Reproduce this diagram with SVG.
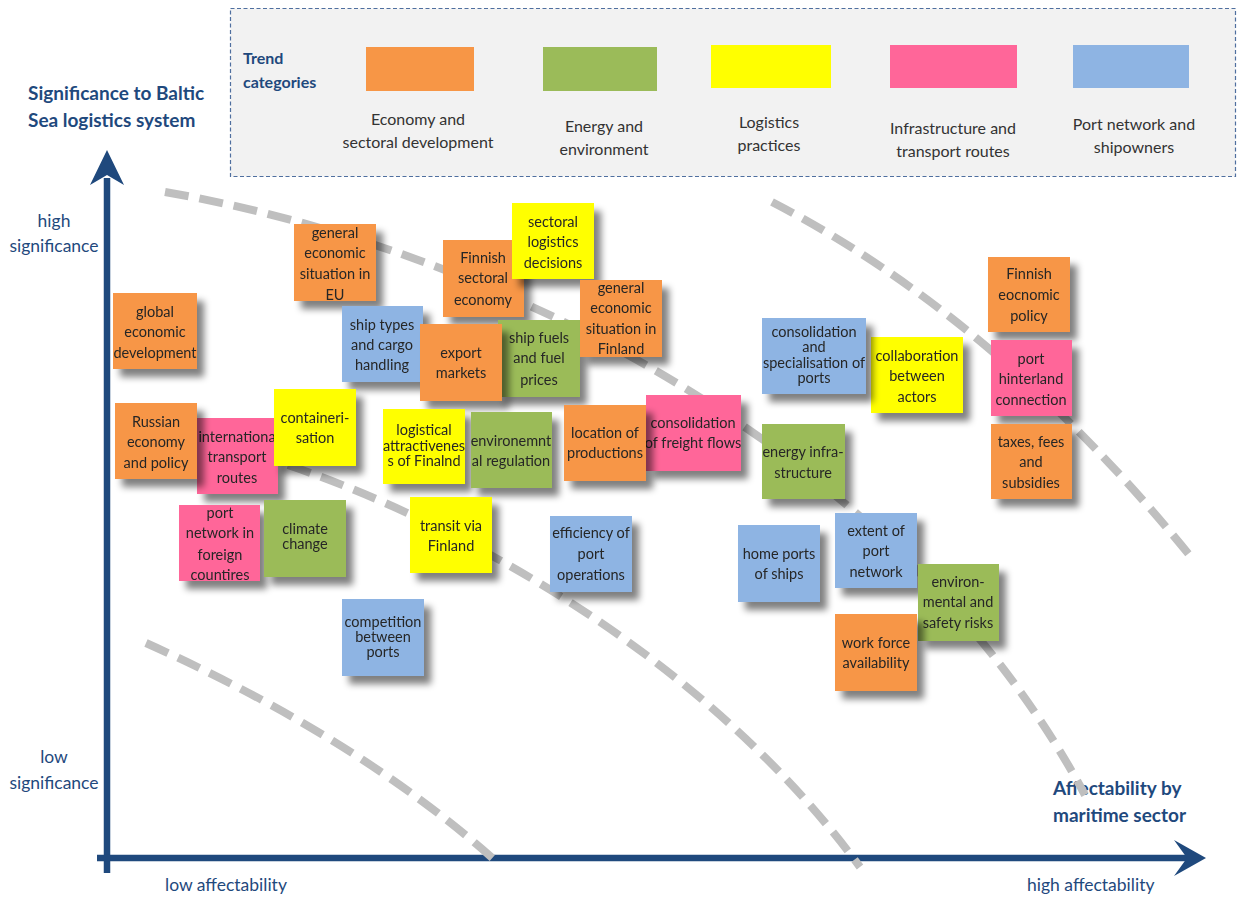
<svg xmlns="http://www.w3.org/2000/svg" width="1237" height="897" viewBox="0 0 1237 897">
<style>
.bg{fill:#ffffff}
.legend{fill:#f2f2f2;stroke:#4f6f9f;stroke-width:1.2;stroke-dasharray:4 2.5}
.lt{font-family:Lato,"Open Sans","Liberation Sans",sans-serif;font-size:16px;fill:#333333;text-anchor:middle}
.tc{font-family:Lato,"Liberation Sans",sans-serif;font-size:16px;font-weight:bold;fill:#1f497d}
.at{font-family:Lato,"Liberation Sans",sans-serif;font-size:19px;font-weight:bold;fill:#1f497d}
.al{font-family:Lato,"Liberation Sans",sans-serif;font-size:17.5px;fill:#1f497d}
.alc{font-family:Lato,"Liberation Sans",sans-serif;font-size:17.5px;fill:#1f497d;text-anchor:middle}
.curve{fill:none;stroke:#bfbfbf;stroke-width:8;stroke-dasharray:24 11}
.axis{stroke:#1f497d;stroke-width:6.5;fill:none}
.head{fill:#1f497d}
.n{font-family:Lato,"Open Sans","Liberation Sans",sans-serif;font-size:14.5px;fill:#262626;text-anchor:middle}
.o{fill:#f79646}
.g{fill:#9bbb59}
.y{fill:#ffff00}
.p{fill:#ff6699}
.b{fill:#8eb4e3}
</style>
<defs>
<filter id="sh" x="-20%" y="-20%" width="150%" height="150%">
<feGaussianBlur in="SourceAlpha" stdDeviation="3.5"/>
<feOffset dx="7" dy="8" result="o"/>
<feComponentTransfer><feFuncA type="linear" slope="0.5"/></feComponentTransfer>
<feMerge><feMergeNode/><feMergeNode in="SourceGraphic"/></feMerge>
</filter>
</defs>
<rect class="bg" x="0" y="0" width="1237" height="897"/>

<g id="legend">
<rect class="legend" x="230.5" y="8.5" width="1005" height="168"/>
<text class="tc" x="243" y="64">Trend</text>
<text class="tc" x="243" y="88">categories</text>
<rect class="o" x="366" y="47" width="108" height="44"/>
<rect class="g" x="543" y="47" width="114" height="44"/>
<rect class="y" x="711" y="45" width="120" height="43"/>
<rect class="p" x="890" y="45" width="127" height="43"/>
<rect class="b" x="1073" y="45" width="116" height="43"/>
<text class="lt" x="418" y="125">Economy and</text>
<text class="lt" x="418" y="148">sectoral development</text>
<text class="lt" x="604" y="132">Energy and</text>
<text class="lt" x="604" y="155">environment</text>
<text class="lt" x="769" y="128">Logistics</text>
<text class="lt" x="769" y="151">practices</text>
<text class="lt" x="953" y="134">Infrastructure and</text>
<text class="lt" x="953" y="157">transport routes</text>
<text class="lt" x="1134" y="130">Port network and</text>
<text class="lt" x="1134" y="153">shipowners</text>
</g>

<g id="axes">
<line class="axis" x1="107" y1="873" x2="107" y2="178"/>
<polygon class="head" points="107,150 124,185 107,175 90,185"/>
<line class="axis" x1="97" y1="858" x2="1188" y2="858"/>
<polygon class="head" points="1206,858 1174,840 1187,858 1174,876"/>
<text class="at" x="28" y="100">Significance to Baltic</text>
<text class="at" x="28" y="127">Sea logistics system</text>
<text class="alc" x="54" y="227">high</text>
<text class="alc" x="54" y="252">significance</text>
<text class="alc" x="54" y="763">low</text>
<text class="alc" x="54" y="789">significance</text>
<text class="al" x="165" y="891">low affectability</text>
<text class="al" x="1027" y="891">high affectability</text>
<text class="at" x="1053" y="795">Affectability by</text>
<text class="at" x="1053" y="822">maritime sector</text>
</g>

<g id="connectors">
<path class="curve" d="M165,192 C500,250 900,450 1085,795"/>
<path class="curve" d="M288,465 C450,520 700,650 860,867"/>
<path class="curve" d="M772,202 Q1000,320 1195,562"/>
<path class="curve" d="M146,643 Q360,739 498,863"/>
</g>

<g id="n-eu" filter="url(#sh)"><rect class="o" x="294" y="224" width="82" height="77"/><text class="n"><tspan x="335" y="238">general</tspan><tspan x="335" y="258">economic</tspan><tspan x="335" y="279">situation in</tspan><tspan x="335" y="300">EU</tspan></text></g>
<g id="n-global" filter="url(#sh)"><rect class="o" x="113" y="293" width="84" height="76"/><text class="n"><tspan x="155" y="317">global</tspan><tspan x="155" y="337">economic</tspan><tspan x="155" y="358">development</tspan></text></g>
<g id="n-shiptypes" filter="url(#sh)"><rect class="b" x="342" y="306" width="81" height="76"/><text class="n"><tspan x="382" y="330">ship types</tspan><tspan x="382" y="350">and cargo</tspan><tspan x="382" y="370">handling</tspan></text></g>
<g id="n-finsect" filter="url(#sh)"><rect class="o" x="443" y="240" width="81" height="77"/><text class="n"><tspan x="483" y="263">Finnish</tspan><tspan x="483" y="283">sectoral</tspan><tspan x="483" y="305">economy</tspan></text></g>
<g id="n-sectlog" filter="url(#sh)"><rect class="y" x="512" y="203" width="82" height="76"/><text class="n"><tspan x="553" y="227">sectoral</tspan><tspan x="553" y="247">logistics</tspan><tspan x="553" y="268">decisions</tspan></text></g>
<g id="n-shipfuels" filter="url(#sh)"><rect class="g" x="498" y="320" width="82" height="77"/><text class="n"><tspan x="539" y="343">ship fuels</tspan><tspan x="539" y="363">and fuel</tspan><tspan x="539" y="385">prices</tspan></text></g>
<g id="n-export" filter="url(#sh)"><rect class="o" x="420" y="324" width="82" height="77"/><text class="n"><tspan x="461" y="358">export</tspan><tspan x="461" y="378">markets</tspan></text></g>
<g id="n-genfin" filter="url(#sh)"><rect class="o" x="580" y="280" width="82" height="77"/><text class="n"><tspan x="621" y="293">general</tspan><tspan x="621" y="313">economic</tspan><tspan x="621" y="334">situation in</tspan><tspan x="621" y="354">Finland</tspan></text></g>
<g id="n-intl" filter="url(#sh)"><rect class="p" x="197" y="418" width="81" height="76"/><text class="n"><tspan x="237" y="442">internationa</tspan><tspan x="237" y="462">transport</tspan><tspan x="237" y="483">routes</tspan></text></g>
<g id="n-russian" filter="url(#sh)"><rect class="o" x="115" y="403" width="82" height="76"/><text class="n"><tspan x="156" y="427">Russian</tspan><tspan x="156" y="447">economy</tspan><tspan x="156" y="468">and policy</tspan></text></g>
<g id="n-contain" filter="url(#sh)"><rect class="y" x="274" y="389" width="82" height="77"/><text class="n"><tspan x="315" y="423">containeri-</tspan><tspan x="315" y="443">sation</tspan></text></g>
<g id="n-portforeign" filter="url(#sh)"><rect class="p" x="179" y="505" width="81" height="76"/><text class="n"><tspan x="220" y="518">port</tspan><tspan x="220" y="538">network in</tspan><tspan x="220" y="560">foreign</tspan><tspan x="220" y="580">countires</tspan></text></g>
<g id="n-climate" filter="url(#sh)"><rect class="g" x="264" y="500" width="82" height="77"/><text class="n"><tspan x="305" y="534">climate</tspan><tspan x="305" y="549">change</tspan></text></g>
<g id="n-logattr" filter="url(#sh)"><rect class="y" x="383" y="409" width="82" height="75"/><text class="n"><tspan x="424" y="435">logistical</tspan><tspan x="424" y="451">attractivenes</tspan><tspan x="424" y="466">s of Finalnd</tspan></text></g>
<g id="n-envreg" filter="url(#sh)"><rect class="g" x="471" y="412" width="81" height="76"/><text class="n"><tspan x="511" y="446">environemnt</tspan><tspan x="511" y="466">al regulation</tspan></text></g>
<g id="n-consfreight" filter="url(#sh)"><rect class="p" x="646" y="395" width="95" height="76"/><text class="n"><tspan x="693" y="428">consolidation</tspan><tspan x="693" y="448">of freight flows</tspan></text></g>
<g id="n-location" filter="url(#sh)"><rect class="o" x="564" y="405" width="82" height="76"/><text class="n"><tspan x="605" y="438">location of</tspan><tspan x="605" y="458">productions</tspan></text></g>
<g id="n-transit" filter="url(#sh)"><rect class="y" x="410" y="497" width="82" height="76"/><text class="n"><tspan x="451" y="531">transit via</tspan><tspan x="451" y="551">Finland</tspan></text></g>
<g id="n-efficiency" filter="url(#sh)"><rect class="b" x="550" y="516" width="82" height="76"/><text class="n"><tspan x="591" y="538">efficiency of</tspan><tspan x="591" y="559">port</tspan><tspan x="591" y="580">operations</tspan></text></g>
<g id="n-competition" filter="url(#sh)"><rect class="b" x="342" y="599" width="82" height="77"/><text class="n"><tspan x="383" y="627">competition</tspan><tspan x="383" y="642">between</tspan><tspan x="383" y="657">ports</tspan></text></g>
<g id="n-collab" filter="url(#sh)"><rect class="y" x="871" y="337" width="92" height="76"/><text class="n"><tspan x="917" y="361">collaboration</tspan><tspan x="917" y="381">between</tspan><tspan x="917" y="402">actors</tspan></text></g>
<g id="n-consports" filter="url(#sh)"><rect class="b" x="762" y="318" width="104" height="76"/><text class="n"><tspan x="814" y="337">consolidation</tspan><tspan x="814" y="352">and</tspan><tspan x="814" y="368">specialisation of</tspan><tspan x="814" y="383">ports</tspan></text></g>
<g id="n-finpolicy" filter="url(#sh)"><rect class="o" x="988" y="257" width="82" height="75"/><text class="n"><tspan x="1029" y="279">Finnish</tspan><tspan x="1029" y="300">eocnomic</tspan><tspan x="1029" y="321">policy</tspan></text></g>
<g id="n-hinterland" filter="url(#sh)"><rect class="p" x="991" y="340" width="81" height="76"/><text class="n"><tspan x="1031" y="364">port</tspan><tspan x="1031" y="384">hinterland</tspan><tspan x="1031" y="405">connection</tspan></text></g>
<g id="n-taxes" filter="url(#sh)"><rect class="o" x="991" y="424" width="81" height="75"/><text class="n"><tspan x="1031" y="447">taxes, fees</tspan><tspan x="1031" y="467">and</tspan><tspan x="1031" y="488">subsidies</tspan></text></g>
<g id="n-energyinfra" filter="url(#sh)"><rect class="g" x="762" y="424" width="83" height="75"/><text class="n"><tspan x="803" y="457">energy infra-</tspan><tspan x="803" y="478">structure</tspan></text></g>
<g id="n-homeports" filter="url(#sh)"><rect class="b" x="738" y="525" width="82" height="77"/><text class="n"><tspan x="779" y="559">home ports</tspan><tspan x="779" y="579">of ships</tspan></text></g>
<g id="n-extent" filter="url(#sh)"><rect class="b" x="835" y="513" width="82" height="75"/><text class="n"><tspan x="876" y="536">extent of</tspan><tspan x="876" y="556">port</tspan><tspan x="876" y="577">network</tspan></text></g>
<g id="n-environ" filter="url(#sh)"><rect class="g" x="918" y="564" width="81" height="77"/><text class="n"><tspan x="958" y="587">environ-</tspan><tspan x="958" y="607">mental and</tspan><tspan x="958" y="628">safety risks</tspan></text></g>
<g id="n-workforce" filter="url(#sh)"><rect class="o" x="835" y="614" width="82" height="77"/><text class="n"><tspan x="876" y="648">work force</tspan><tspan x="876" y="668">availability</tspan></text></g>
</svg>
